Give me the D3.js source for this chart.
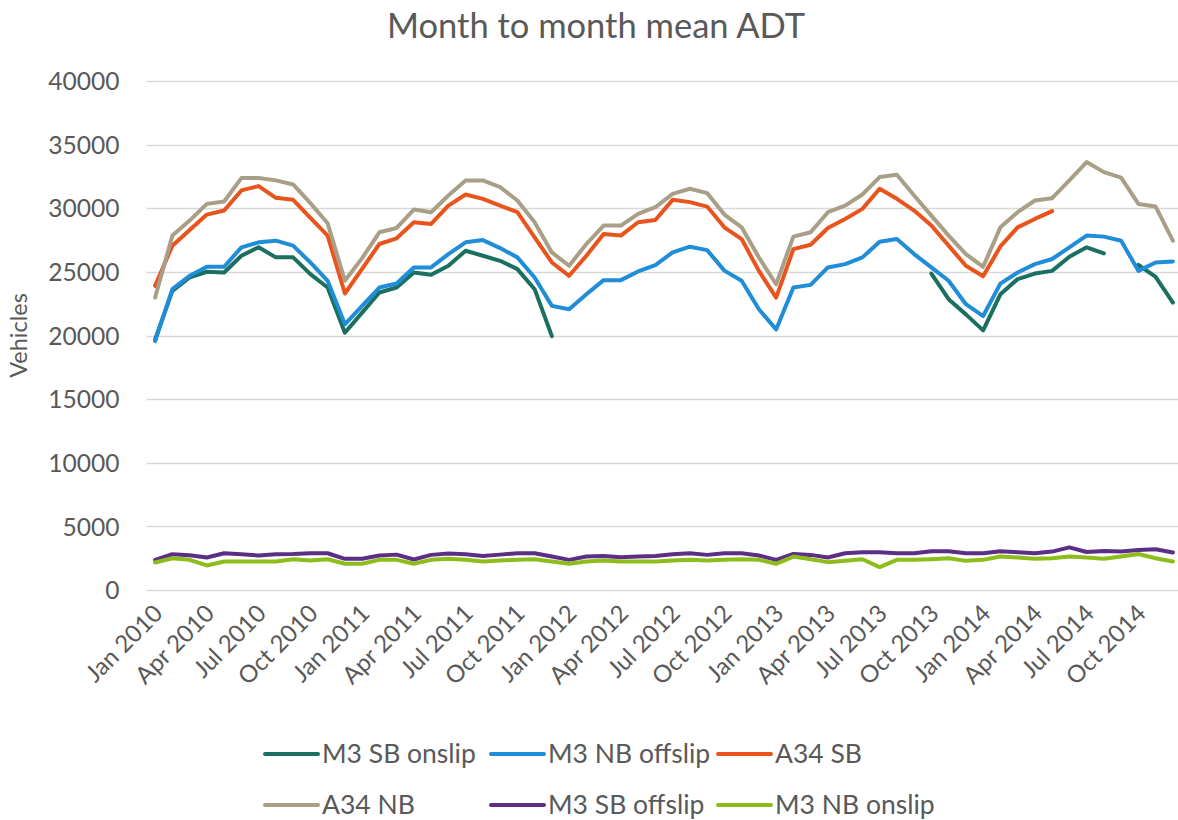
<!DOCTYPE html>
<html>
<head>
<meta charset="utf-8">
<script src="https://cdn.jsdelivr.net/npm/d3@7"></script>
<style>
  html, body { margin: 0; padding: 0; background: #fff; }
  svg { display: block; font-family: Lato, "Open Sans", sans-serif; }
</style>
</head>
<body>
<svg id="chart" width="1178" height="820"></svg>
<script>
// Categories: one entry per month, Jan 2010 - Dec 2014
const monthNames = ["Jan", "Feb", "Mar", "Apr", "May", "Jun", "Jul", "Aug", "Sep", "Oct", "Nov", "Dec"];
const years = [2010, 2011, 2012, 2013, 2014];
const months = years.flatMap(y => monthNames.map(m => `${m} ${y}`));

// Axis labels
const xTickLabels = ["Jan 2010", "Apr 2010", "Jul 2010", "Oct 2010", "Jan 2011", "Apr 2011", "Jul 2011", "Oct 2011",
  "Jan 2012", "Apr 2012", "Jul 2012", "Oct 2012", "Jan 2013", "Apr 2013", "Jul 2013", "Oct 2013",
  "Jan 2014", "Apr 2014", "Jul 2014", "Oct 2014"];
const yTicks = [0, 5000, 10000, 15000, 20000, 25000, 30000, 35000, 40000];

// Mean ADT per month (null = no count that month)
const m3SbOnslip = [19690, 23510, 24560, 25010, 24950, 26270, 26930, 26140, 26140, 24820, 23770, 20220,
  21800, 23380, 23770, 24950, 24770, 25480, 26660, 26270, 25870, 25220, 23640, 19950,
  null, null, null, null, null, null, null, null, null, null, null, null,
  null, null, null, null, null, null, null, null, null, 24870, 22850, 21660,
  20400, 23240, 24430, 24870, 25080, 26190, 26930, 26450, null, 25550, 24610, 22580];

const m3NbOffslip = [19560, 23640, 24690, 25400, 25400, 26930, 27320, 27450, 27060, 25740, 24300, 20880,
  22330, 23770, 24090, 25350, 25350, 26400, 27320, 27500, 26870, 26140, 24560, 22330,
  22060, 23240, 24350, 24350, 25030, 25530, 26530, 26980, 26710, 25100, 24300, 22060,
  20480, 23770, 23980, 25350, 25610, 26140, 27370, 27580, 26400, 25350, 24300, 22460,
  21530, 24080, 24950, 25610, 26010, 26930, 27850, 27770, 27450, 25080, 25740, 25820];

const a34Sb = [23900, 27060, 28290, 29500, 29820, 31400, 31740, 30820, 30660, 29240, 27850, 23300,
  25240, 27190, 27640, 28900, 28770, 30210, 31080, 30740, 30210, 29690, 27710, 25740,
  24690, 26270, 27980, 27850, 28900, 29080, 30660, 30480, 30130, 28500, 27580, 25080,
  22980, 26790, 27130, 28450, 29160, 29950, 31530, 30740, 29820, 28640, 27060, 25480,
  24650, 27000, 28500, 29160, 29770, null, null, null, null, null, null, null];

const a34Nb = [22980, 27850, 29030, 30345, 30530, 32370, 32370, 32190, 31870, 30400, 28820, 24300,
  26080, 28110, 28450, 29900, 29690, 31000, 32190, 32190, 31660, 30610, 28900, 26530,
  25480, 27190, 28640, 28640, 29560, 30080, 31130, 31530, 31190, 29500, 28500, 26140,
  24030, 27770, 28110, 29690, 30210, 31080, 32450, 32630, 31000, 29420, 27850, 26400,
  25400, 28500, 29690, 30610, 30790, 32190, 33630, 32840, 32400, 30340, 30130, 27450];

const m3SbOffslip = [2370, 2810, 2730, 2550, 2890, 2810, 2710, 2810, 2830, 2890, 2890, 2450,
  2450, 2710, 2780, 2400, 2760, 2860, 2810, 2680, 2780, 2890, 2890, 2630,
  2370, 2630, 2680, 2580, 2630, 2680, 2810, 2890, 2760, 2890, 2890, 2710,
  2370, 2830, 2760, 2550, 2890, 2960, 2960, 2890, 2890, 3040, 3040, 2890,
  2890, 3040, 2960, 2890, 3020, 3350, 2990, 3070, 3020, 3140, 3200, 2940];

const m3NbOnslip = [2160, 2500, 2370, 1930, 2240, 2240, 2240, 2240, 2420, 2320, 2420, 2060,
  2060, 2370, 2370, 2060, 2370, 2450, 2370, 2240, 2320, 2370, 2420, 2240,
  2060, 2240, 2320, 2240, 2240, 2240, 2320, 2370, 2320, 2370, 2420, 2370,
  2060, 2630, 2420, 2190, 2290, 2420, 1800, 2370, 2370, 2420, 2500, 2290,
  2370, 2630, 2550, 2450, 2500, 2630, 2550, 2450, 2630, 2830, 2500, 2240];

const seriesNames = ["M3 SB onslip", "M3 NB offslip", "A34 SB", "A34 NB", "M3 SB offslip", "M3 NB onslip"];
const seriesColors = ["#1b6f60", "#1f8dd8", "#e8541c", "#a89f86", "#5c2e86", "#8cbd1a"];
const seriesValues = [m3SbOnslip, m3NbOffslip, a34Sb, a34Nb, m3SbOffslip, m3NbOnslip];

const series = seriesNames.map((name, k) => ({
  name, color: seriesColors[k],
  values: seriesValues[k].map((v, i) => ({ month: months[i], value: v }))
}));

// Layout
const W = 1178, H = 820;
const plot = { left: 146.5, right: 1181.5, top: 81, bottom: 590 };
const textColor = "#595959";
const gridColor = "#d9d9d9";

const svg = d3.select("#chart");

const x = d3.scaleBand().domain(months).range([plot.left, plot.right]).padding(0);
const xc = m => x(m) + x.bandwidth() / 2;
const y = d3.scaleLinear().domain([0, 40000]).range([plot.bottom, plot.top]);

// Title
svg.append("text")
  .attr("x", 596).attr("y", 38)
  .attr("text-anchor", "middle")
  .attr("fill", textColor)
  .style("font-size", "34.5px")
  .text("Month to month mean ADT");

// Horizontal gridlines + y tick labels
const yAxis = d3.axisLeft(y).tickValues(yTicks).tickSize(0).tickPadding(0)
  .tickFormat(d3.format("d"));
const gy = svg.append("g").attr("transform", `translate(${plot.left - 27},0)`).call(yAxis);
gy.select(".domain").remove();
gy.selectAll("text").attr("fill", textColor).style("font-size", "24.6px")
  .style("font-family", "Lato, 'Open Sans', sans-serif").attr("dy", "0.35em");

svg.append("g").selectAll("line").data(yTicks).join("line")
  .attr("x1", plot.left).attr("x2", W)
  .attr("y1", d => Math.round(y(d)) + 0.5).attr("y2", d => Math.round(y(d)) + 0.5)
  .attr("stroke", gridColor).attr("stroke-width", 1.3);

// Y axis title
svg.append("text")
  .attr("transform", `translate(27,${(plot.top + plot.bottom) / 2}) rotate(-90)`)
  .attr("text-anchor", "middle")
  .attr("fill", textColor)
  .style("font-size", "23.5px")
  .text("Vehicles");

// X tick labels, rotated
const xAxis = d3.axisBottom(x).tickValues(xTickLabels).tickSize(0).tickPadding(0);
const gx = svg.append("g").attr("transform", `translate(0,${plot.bottom})`).call(xAxis);
gx.select(".domain").remove();
gx.selectAll(".tick text")
  .attr("fill", textColor)
  .style("font-size", "24px")
  .style("font-family", "Lato, 'Open Sans', sans-serif")
  .attr("text-anchor", "end")
  .attr("dy", "0.35em")
  .attr("transform", "translate(3,19) rotate(-45)")
  .attr("y", 0);

// Lines
const line = d3.line()
  .defined(d => d.value != null)
  .x(d => xc(d.month))
  .y(d => y(d.value));

svg.append("g").selectAll("path").data(series).join("path")
  .attr("d", d => line(d.values))
  .attr("fill", "none")
  .attr("stroke", d => d.color)
  .attr("stroke-width", 4)
  .attr("stroke-linejoin", "round")
  .attr("stroke-linecap", "round");

// Legend: two rows of three
const legendCols = [265, 491, 718];
const legendRows = [754, 805];
const lg = svg.append("g").selectAll("g").data(series).join("g")
  .attr("transform", (d, i) => `translate(${legendCols[i % 3]},${legendRows[Math.floor(i / 3)]})`);
lg.append("line")
  .attr("x1", 0).attr("x2", 53).attr("y1", 0).attr("y2", 0)
  .attr("stroke", d => d.color).attr("stroke-width", 4).attr("stroke-linecap", "round");
lg.append("text")
  .attr("x", 57).attr("y", 0).attr("dy", "0.35em")
  .attr("fill", textColor)
  .style("font-size", "26.5px")
  .text(d => d.name);
</script>
</body>
</html>
